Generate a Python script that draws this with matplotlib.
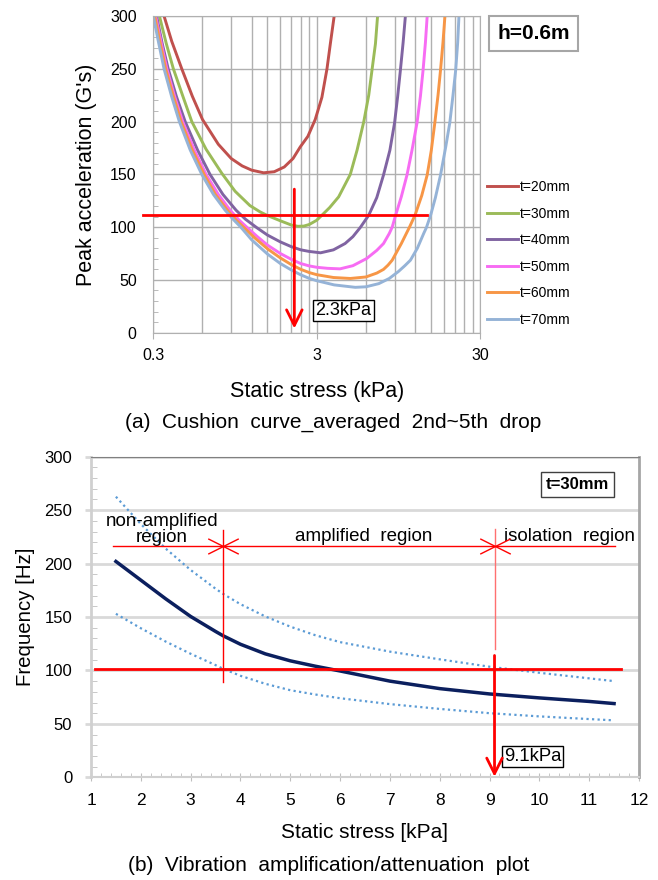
import numpy as np
import matplotlib.pyplot as plt
from matplotlib.path import Path
from matplotlib.ticker import FixedLocator, NullFormatter, MultipleLocator

plt.rcParams['font.family'] = ['Liberation Sans', 'DejaVu Sans']

# ---------------- (a) cushion curves, h = 0.6 m ----------------
t20_s = [0.349, 0.389, 0.448, 0.52, 0.6, 0.75, 0.9, 1.05, 1.2, 1.42, 1.65, 1.9, 2.15, 2.38, 2.65, 2.94, 3.23,
         3.47, 3.64, 3.84]
t20_g = [300, 276, 250, 224, 202, 178.5, 165, 158, 154, 151.5, 152.5, 157, 165, 176, 186, 202, 223, 250, 274, 300]

t30_s = [0.327, 0.36, 0.398, 0.455, 0.516, 0.63, 0.788, 0.95, 1.17, 1.35, 1.5, 1.8, 2.1, 2.3, 2.5, 2.7, 3.0,
         3.23, 3.6, 4.09, 4.82, 5.30, 5.83, 6.25, 6.56, 6.87, 7.08]
t30_g = [300, 274, 250, 224, 200, 174, 151, 134, 120.5, 114.5, 111, 106, 102, 100.8, 101, 102.5, 106.5, 111.3,
         118.5, 128.7, 150, 172.8, 200, 225, 250, 273.7, 300]

t40_s = [0.314, 0.34, 0.370, 0.415, 0.470, 0.56, 0.667, 0.8, 0.964, 1.1, 1.29, 1.5, 1.8, 2.1, 2.4, 2.7, 3.17,
         3.8, 4.48, 5.0, 5.55, 6.25, 7.0, 7.7, 8.42, 9.0, 9.4, 9.77, 10.15, 10.48]
t40_g = [300, 274, 250, 224, 200, 173, 150, 131, 116, 107.5, 99.5, 92.5, 86, 81.5, 78.5, 77, 75.7, 78.5, 84.5,
         91, 99.7, 111.3, 128, 149.5, 172.8, 199, 224, 249, 275, 300]

t50_s = [0.310, 0.335, 0.363, 0.405, 0.454, 0.535, 0.631, 0.75, 0.887, 1.0, 1.12, 1.3, 1.5, 1.8, 2.1, 2.4, 2.7,
         3.0, 3.5, 4.17, 5.0, 6.07, 7.0, 7.7, 8.35, 8.7, 9.13, 9.9, 10.72, 11.5, 12.35, 12.95, 13.45, 13.9, 14.25]
t50_g = [300, 275, 250, 224, 200, 173, 150, 131, 116, 107, 100, 91, 83, 75, 69.5, 65.5, 63.3, 62, 61, 60.5,
         63.5, 70.3, 78, 84.5, 94, 100, 111.3, 129, 149.5, 172.8, 199, 224, 249, 275, 300]

t60_s = [0.306, 0.33, 0.357, 0.398, 0.444, 0.52, 0.614, 0.72, 0.853, 0.96, 1.07, 1.25, 1.5, 1.8, 2.1, 2.4, 2.7,
         3.0, 3.8, 4.82, 6.0, 7.0, 7.7, 8.2, 8.7, 9.9, 11.1, 12.0, 13.2, 14.25, 15.1, 15.87, 16.6, 17.2, 17.8, 18.3]
t60_g = [300, 275, 250, 224, 200, 173, 150, 131, 116, 107, 100, 90, 79.5, 70.8, 64.5, 60, 57, 55, 52.3, 51.4,
         52.8, 56.5, 60, 64, 68.7, 84.5, 100, 111.3, 130, 149.5, 172.8, 199, 225, 249, 275, 300]

t70_s = [0.30, 0.323, 0.349, 0.388, 0.433, 0.505, 0.594, 0.70, 0.826, 0.93, 1.03, 1.2, 1.5, 1.8, 2.1, 2.4, 2.7,
         3.0, 3.84, 5.17, 6.0, 7.2, 8.35, 9.5, 10.4, 11.25, 12.4, 13.56, 14.1, 15.0, 16.0, 17.2, 18.5, 19.6,
         20.5, 21.3, 21.9, 22.3]
t70_g = [300, 275, 250, 224, 200, 173, 150, 131, 116, 107, 100, 88, 74.5, 65.5, 59.4, 54.8, 51.5, 49.3, 45.3,
         43, 43.5, 46.5, 51.4, 58, 63.5, 68.7, 80, 94, 99.7, 112, 128, 149.5, 176, 199, 225, 249, 275, 300]

labels_a = ['t=20mm', 't=30mm', 't=40mm', 't=50mm', 't=60mm', 't=70mm']
colors_a = ['#C0504D', '#9BBB59', '#8064A2', '#F76CF3', '#F79646', '#95B3D7']

g_limit = 111.3        # allowable peak acceleration
g_limit_x = [0.259, 14.3]
stress_a = 2.19        # chosen static stress
arrow_a = [136, 4]

# ---------------- (b) vibration plot, t = 30 mm ----------------
stress_b = [1.5, 2.0, 2.5, 3.0, 3.5, 3.65, 4.0, 4.5, 5.0, 5.5, 6.0, 7.0, 8.0, 9.0, 10.0, 11.0, 11.5]
freq_mid = [202, 184.5, 167, 150.5, 136.5, 132.5, 124.5, 115.5, 109, 104, 99.5, 90, 83, 78, 74.3, 71, 69]
freq_up = [262.6, 237, 214, 194, 176.5, 171.7, 162, 150.5, 141, 133, 126.5, 117.6, 110.4, 103.5, 97.8, 92.6, 90]
freq_lo = [153, 139.5, 127, 115.6, 105, 101.6, 95, 87.5, 81.5, 77.5, 74, 68.5, 64, 60, 57, 54.5, 53.3]

f_limit = 101
f_limit_x = [1.08, 11.64]
region_f = 216
region_x = [1.45, 11.52]
bounds = [3.65, 9.1]

fig = plt.figure(figsize=(6.58, 8.8), dpi=100)

# ========== top chart ==========
ax1 = fig.add_axes([0.233, 0.6219, 0.4965, 0.3599])
ax1.set_xscale('log')
curves = [(t20_s, t20_g), (t30_s, t30_g), (t40_s, t40_g), (t50_s, t50_g), (t60_s, t60_g), (t70_s, t70_g)]
for (s, g), lbl, c in zip(curves, labels_a, colors_a):
    ax1.plot(s, g, color=c, lw=2.1, label=lbl, solid_joinstyle='round')

ax1.set_xlim(0.3, 30)
ax1.set_ylim(0, 300)
ax1.xaxis.set_major_locator(FixedLocator([0.3, 3, 30]))
ax1.set_xticklabels(['0.3', '3', '30'])
ax1.xaxis.set_minor_locator(FixedLocator([0.3 * k for k in range(2, 10)] + [3 * k for k in range(2, 10)]))
ax1.xaxis.set_minor_formatter(NullFormatter())
ax1.yaxis.set_major_locator(MultipleLocator(50))
ax1.yaxis.set_minor_locator(MultipleLocator(10))
ax1.grid(which='major', color='#B0B0B0', lw=1)
ax1.grid(which='minor', axis='x', color='#B0B0B0', lw=1)
ax1.tick_params(axis='y', which='major', length=0, pad=12, labelsize=11.5)
ax1.tick_params(axis='y', which='minor', direction='in', length=3.5, color='#B0B0B0')
ax1.tick_params(axis='x', which='major', length=4, color='#B0B0B0', pad=7, labelsize=11.5)
ax1.tick_params(axis='x', which='minor', length=0)
for sp in ax1.spines.values():
    sp.set_color('#B0B0B0')

ax1.plot(g_limit_x, [g_limit, g_limit], color='red', lw=2, clip_on=False, zorder=5)
ax1.annotate('', xy=(stress_a, arrow_a[1]), xytext=(stress_a, arrow_a[0]),
             arrowprops=dict(arrowstyle='->,head_length=0.7,head_width=0.35', color='red', lw=2,
                             shrinkA=0, shrinkB=0, mutation_scale=16), zorder=6)
ax1.text(2.95, 21, '2.3kPa', fontsize=13, ha='left', va='center',
         bbox=dict(boxstyle='square,pad=0.12', fc='white', ec='black', lw=1))

ax1.legend(loc='upper left', bbox_to_anchor=(1.0214, 0.482), frameon=False, fontsize=10,
           handlelength=2.2, handletextpad=0.15, labelspacing=0.9, borderpad=0, borderaxespad=0)

fig.text(0.8108, 0.9619, 'h=0.6m', fontsize=15, fontweight='bold', ha='center', va='center',
         bbox=dict(boxstyle='square,pad=0.4', fc='white', ec='#A6A6A6', lw=1.5))

ax1.set_ylabel("Peak acceleration (G's)", fontsize=15.5)
ax1.yaxis.set_label_coords(-0.172, 0.5)
ax1.set_xlabel('Static stress (kPa)', fontsize=15.5)
ax1.xaxis.set_label_coords(0.5, -0.1525)
fig.text(0.507, 0.5205, '(a)  Cushion  curve_averaged  2nd~5th  drop', fontsize=15,
         ha='center', va='center')

# ========== bottom chart ==========
ax2 = fig.add_axes([0.1383, 0.1167, 0.8328, 0.3643])
ax2.plot(stress_b, freq_up, color='#5B9BD5', lw=1.6, ls=(0, (1, 1.5)))
ax2.plot(stress_b, freq_lo, color='#5B9BD5', lw=1.6, ls=(0, (1, 1.5)))
ax2.plot(stress_b, freq_mid, color='#0B1F5E', lw=2.5, solid_joinstyle='round')

ax2.set_xlim(1, 12)
ax2.set_ylim(0, 300)
ax2.xaxis.set_major_locator(MultipleLocator(1))
ax2.xaxis.set_minor_locator(MultipleLocator(0.2))
ax2.yaxis.set_major_locator(MultipleLocator(50))
ax2.yaxis.set_minor_locator(MultipleLocator(10))
ax2.grid(which='major', axis='y', color='#D9D9D9', lw=2)
ax2.tick_params(axis='x', which='major', direction='inout', length=6, color='#BFBFBF', pad=8.3, labelsize=12.5)
ax2.tick_params(axis='x', which='minor', direction='in', length=3, color='#BFBFBF')
ax2.tick_params(axis='y', which='major', direction='out', length=4.5, width=2, color='#D9D9D9', pad=9, labelsize=12)
ax2.tick_params(axis='y', which='minor', direction='in', length=4, color='#BFBFBF')
ax2.spines['top'].set_color('#808080')
ax2.spines['right'].set_color('#A6A6A6')
ax2.spines['right'].set_linewidth(2)
ax2.spines['left'].set_color('#D0D0D0')
ax2.spines['left'].set_linewidth(2)
ax2.spines['bottom'].set_color('#D0D0D0')
ax2.spines['bottom'].set_linewidth(1.5)

ax2.plot(f_limit_x, [f_limit, f_limit], color='red', lw=2, zorder=5)
ax2.plot(region_x, [region_f, region_f], color='red', lw=1, zorder=5)
ax2.plot([bounds[0], bounds[0]], [89, 231], color='red', lw=1, zorder=5)
ax2.plot([bounds[1], bounds[1]], [120, 232], color='#FF7070', lw=1, zorder=5)
xmark = Path([(-1, -0.5), (1, 0.5), (-1, 0.5), (1, -0.5)],
             [Path.MOVETO, Path.LINETO, Path.MOVETO, Path.LINETO])
ax2.plot(bounds, [region_f, region_f], ls='none', marker=xmark, ms=22, mec='red', mew=1, zorder=5)
ax2.annotate('', xy=(bounds[1], 0.5), xytext=(bounds[1], 114),
             arrowprops=dict(arrowstyle='->,head_length=0.7,head_width=0.35', color='red', lw=2,
                             shrinkA=0, shrinkB=0, mutation_scale=16), zorder=6)

ax2.text(2.42, region_f, 'non-amplified\nregion', fontsize=13.5, ha='center', va='bottom', linespacing=0.95)
ax2.text(6.48, 221.5, 'amplified  region', fontsize=13.5, ha='center', va='baseline')
ax2.text(10.6, 221.5, 'isolation  region', fontsize=13.5, ha='center', va='baseline')
ax2.text(10.76, 274.4, 't=30mm', fontsize=12, fontweight='bold', ha='center', va='center',
         bbox=dict(boxstyle='square,pad=0.3', fc='white', ec='#404040', lw=1))
ax2.text(9.29, 19.5, '9.1kPa', fontsize=13.3, ha='left', va='center',
         bbox=dict(boxstyle='square,pad=0.1', fc='white', ec='black', lw=1))

ax2.set_ylabel('Frequency [Hz]', fontsize=14.7)
ax2.yaxis.set_label_coords(-0.102, 0.5)
ax2.set_xlabel('Static stress [kPa]', fontsize=15)
ax2.xaxis.set_label_coords(0.5, -0.1425)
fig.text(0.5, 0.017, '(b)  Vibration  amplification/attenuation  plot', fontsize=15,
         ha='center', va='center')

fig.savefig('out.png', dpi=100)
